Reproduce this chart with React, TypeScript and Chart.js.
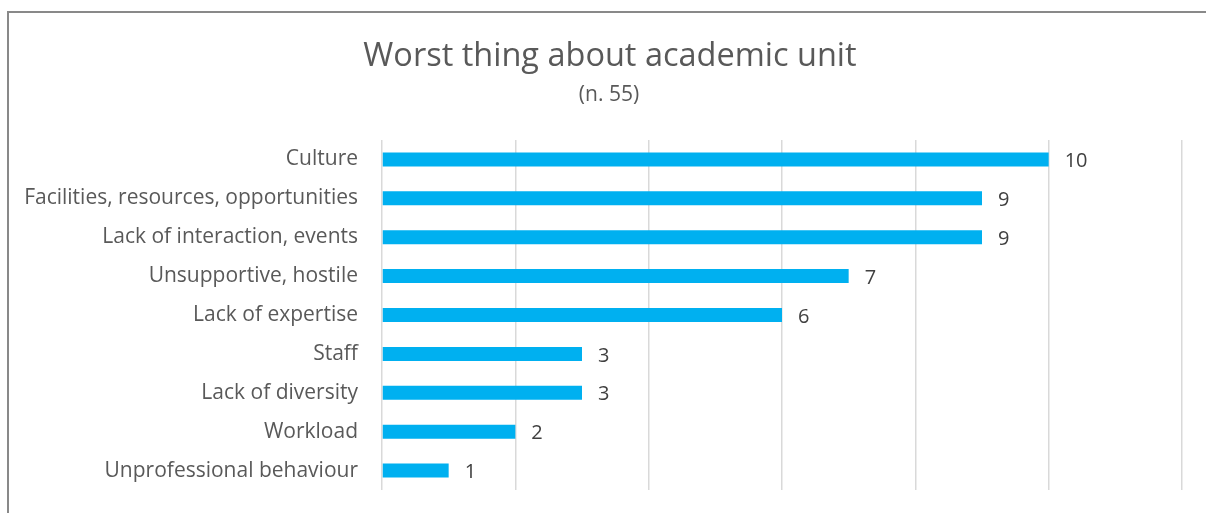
import React, { useEffect, useRef } from "react";
import { Chart, registerables } from "chart.js";

Chart.register(...registerables);

const categories = [
  "Culture",
  "Facilities, resources, opportunities",
  "Lack of interaction, events",
  "Unsupportive, hostile",
  "Lack of expertise",
  "Staff",
  "Lack of diversity",
  "Workload",
  "Unprofessional behaviour",
];
const counts = [10, 9, 9, 7, 6, 3, 3, 2, 1];
const titleText = "Worst thing about academic unit";
const subtitleText = "(n. 55)";

const FONT = "'Open Sans', Lato, sans-serif";

const valueLabels = {
  id: "valueLabels",
  afterDatasetsDraw(chart: any) {
    const ctx = chart.ctx;
    const meta = chart.getDatasetMeta(0);
    ctx.save();
    ctx.font = `20px ${FONT}`;
    ctx.fillStyle = "#404040";
    ctx.textAlign = "left";
    ctx.textBaseline = "middle";
    meta.data.forEach((el: any, i: number) => {
      ctx.fillText(String(counts[i]), el.x + 16, el.y + 2);
    });
    ctx.restore();
  },
};

const headerText = {
  id: "headerText",
  afterDraw(chart: any) {
    const ctx = chart.ctx;
    ctx.save();
    ctx.fillStyle = "#595959";
    ctx.textAlign = "center";
    ctx.textBaseline = "middle";
    ctx.font = `32.5px ${FONT}`;
    ctx.fillText(titleText, 610, 56.5);
    ctx.font = `21px ${FONT}`;
    ctx.fillText(subtitleText, 609, 95.5);
    ctx.restore();
  },
};

export default function App() {
  const ref = useRef<HTMLCanvasElement>(null);
  useEffect(() => {
    if (!ref.current) return;
    const chart = new Chart(ref.current, {
      type: "bar",
      data: {
        labels: categories,
        datasets: [
          {
            data: counts,
            backgroundColor: "#00B0F0",
            borderWidth: 0,
            barPercentage: 0.72,
            categoryPercentage: 0.5,
          },
        ],
      },
      plugins: [valueLabels, headerText],
      options: {
        indexAxis: "y",
        animation: false,
        responsive: false,
        maintainAspectRatio: false,
        layout: { padding: { left: 0, right: 24, top: 140, bottom: 23 } },
        plugins: {
          legend: { display: false },
          tooltip: { enabled: false },
          title: { display: false },
        },
        scales: {
          x: {
            min: 0,
            max: 12,
            ticks: { display: false, stepSize: 2 },
            grid: { color: "#d9d9d9", lineWidth: 1.5, drawTicks: false },
            border: { display: false },
            afterFit: (axis: any) => {
              axis.height = 0;
              axis.paddingLeft = 0;
              axis.paddingRight = 0;
            },
          },
          y: {
            grid: { display: false, drawTicks: false },
            border: { display: false },
            ticks: {
              color: "#595959",
              font: { family: FONT, size: 21 },
              padding: 24,
            },
            afterFit: (axis: any) => {
              axis.width = 382;
              axis.paddingTop = 0;
              axis.paddingBottom = 0;
            },
          },
        },
      },
    });
    return () => chart.destroy();
  }, []);
  return (
    <div style={{ position: "fixed", left: 0, top: 0, width: 1206, height: 513, background: "#fff", overflow: "hidden" }}>
      <div
        style={{
          position: "absolute",
          left: 7,
          top: 11,
          width: 1300,
          height: 600,
          borderTop: "2px solid #898989",
          borderLeft: "2px solid #898989",
        }}
      />
      <canvas ref={ref} width={1206} height={513} style={{ position: "absolute", left: 0, top: 0 }} />
    </div>
  );
}
